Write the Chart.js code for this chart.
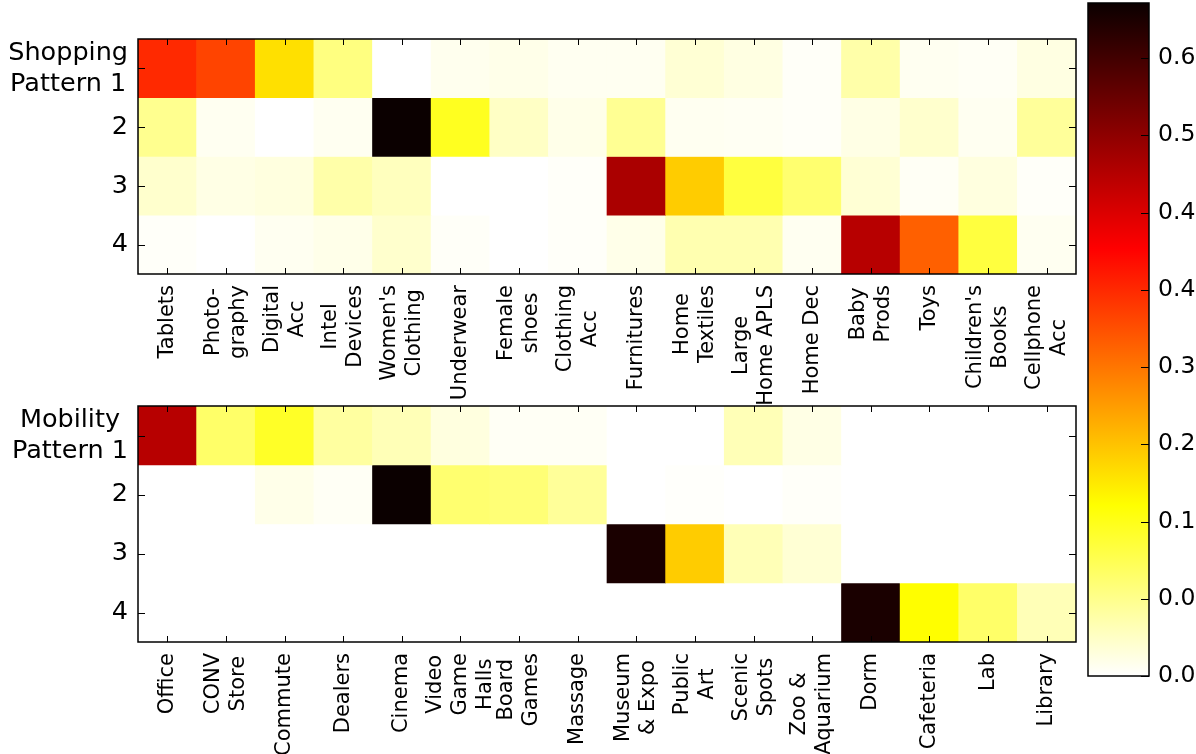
<!DOCTYPE html>
<html>
<head>
<meta charset="utf-8">
<script src="https://cdn.jsdelivr.net/npm/chart.js@4.4.1/dist/chart.umd.min.js"></script>
<style>
body{margin:0;background:#fff;width:1196px;height:754px;overflow:hidden;position:relative}
canvas{position:absolute}
</style>
</head>
<body>
<canvas id="shop" width="1080" height="410" style="left:0;top:0"></canvas>
<canvas id="mob" width="1080" height="394" style="left:0;top:360px"></canvas>
<canvas id="cbar" width="116" height="754" style="left:1080px;top:0"></canvas>
<script>
// column labels (one entry per line of the label)
const shopCategories = [['Tablets'], ['Photo-', 'graphy'], ['Digital', 'Acc'], ['Intel', 'Devices'],
  ["Women's", 'Clothing'], ['Underwear'], ['Female', 'shoes'], ['Clothing', 'Acc'],
  ['Furnitures'], ['Home', 'Textiles'], ['Large', 'Home APLS'], ['Home Dec'],
  ['Baby', 'Prods'], ['Toys'], ["Children's", 'Books'], ['Cellphone', 'Acc']]
const mobCategories = [['Office'], ['CONV', 'Store'], ['Commute'], ['Dealers'],
  ['Cinema'], ['Video', 'Game', 'Halls'], ['Board', 'Games'], ['Massage'],
  ['Museum', '& Expo'], ['Public', 'Art'], ['Scenic', 'Spots'], ['Zoo &', 'Aquarium'],
  ['Dorm'], ['Cafeteria'], ['Lab'], ['Library']]

const shopRows = [['Shopping', 'Pattern 1'], ['2'], ['3'], ['4']]
const mobRows = [['Mobility', 'Pattern 1'], ['2'], ['3'], ['4']]

// shopping patterns
const shop1 = [0.40, 0.372, 0.209, 0.088, 0, 0.012, 0.015, 0.01, 0.01, 0.03, 0.02, 0.005, 0.06, 0.01, 0.007, 0.02]
const shop2 = [0.078, 0.01, 0, 0.01, 0.697, 0.155, 0.04, 0.015, 0.075, 0.01, 0.008, 0.005, 0.018, 0.035, 0.01, 0.07]
const shop3 = [0.035, 0.018, 0.022, 0.06, 0.045, 0, 0, 0.004, 0.531, 0.230, 0.133, 0.10, 0.03, 0.007, 0.022, 0.004]
const shop4 = [0.004, 0, 0.01, 0.015, 0.035, 0.005, 0, 0.004, 0.015, 0.055, 0.055, 0.01, 0.517, 0.343, 0.133, 0.01]

// mobility patterns
const mob1 = [0.517, 0.105, 0.15, 0.066, 0.05, 0.022, 0.007, 0.007, 0, 0, 0.05, 0.018, 0, 0, 0, 0]
const mob2 = [0, 0, 0.015, 0.007, 0.697, 0.10, 0.095, 0.071, 0, 0.003, 0, 0.004, 0, 0, 0, 0]
const mob3 = [0, 0, 0, 0, 0, 0, 0, 0, 0.681, 0.230, 0.05, 0.03, 0, 0, 0, 0]
const mob4 = [0, 0, 0, 0, 0, 0, 0, 0, 0, 0, 0, 0, 0.681, 0.178, 0.105, 0.05]

// colour scale
const vmax = 0.697
const cbarTicks = [0, 0.08, 0.16, 0.24, 0.32, 0.40, 0.48, 0.56, 0.64]

const FONT = '"DejaVu Sans"'

// matplotlib "hot" reversed
function hotR(v) {
  const s = 1 - Math.min(Math.max(v / vmax, 0), 1)
  const r = s < 0.365079 ? 0.0416 + 0.9584 * s / 0.365079 : 1
  const g = s < 0.365079 ? 0 : s < 0.746032 ? (s - 0.365079) / 0.380953 : 1
  const b = s < 0.746032 ? 0 : (s - 0.746032) / 0.253968
  return 'rgb(' + Math.round(r * 255) + ',' + Math.round(g * 255) + ',' + Math.round(b * 255) + ')'
}

// frame, inward ticks and labels like the old matplotlib look
function axesPlugin(cats, rowNames) {
  return {
    id: 'mplAxes',
    afterDraw(chart) {
      const {ctx, chartArea: a, scales: {x, y}} = chart
      ctx.save()
      ctx.strokeStyle = '#000'
      ctx.lineWidth = 1
      ctx.beginPath()
      cats.forEach((c, i) => {
        const px = Math.round(x.getPixelForValue(i)) + 0.5
        ctx.moveTo(px, a.top); ctx.lineTo(px, a.top + 6)
        ctx.moveTo(px, a.bottom); ctx.lineTo(px, a.bottom - 6)
      })
      rowNames.forEach((n, r) => {
        const py = Math.round(y.getPixelForValue(r)) + 0.5
        ctx.moveTo(a.left, py); ctx.lineTo(a.left + 7, py)
        ctx.moveTo(a.right, py); ctx.lineTo(a.right - 7, py)
      })
      ctx.stroke()
      ctx.lineWidth = 1.5
      ctx.strokeRect(a.left, a.top, a.right - a.left, a.bottom - a.top)

      ctx.fillStyle = '#000'
      ctx.textBaseline = 'middle'
      ctx.textAlign = 'center'
      ctx.font = '25.5px ' + FONT
      rowNames.forEach((lines, r) => {
        const py = y.getPixelForValue(r)
        const w = Math.max(...lines.map(l => ctx.measureText(l).width))
        const cx = a.left - 10 - w / 2
        lines.forEach((l, k) => ctx.fillText(l, cx, py + (k - (lines.length - 1) / 2) * 31))
      })
      ctx.font = '21px ' + FONT
      cats.forEach((lines, i) => {
        const px = x.getPixelForValue(i)
        const w = Math.max(...lines.map(l => ctx.measureText(l).width))
        ctx.save()
        ctx.translate(px, a.bottom + 11)
        ctx.rotate(-Math.PI / 2)
        lines.forEach((l, k) => ctx.fillText(l, -w / 2, (k - (lines.length - 1) / 2) * 25))
        ctx.restore()
      })
      ctx.restore()
    }
  }
}

const heatmap = function (id, cats, rowNames, rows, pad) {
  new Chart(document.getElementById(id), {
    type: 'bar',
    data: {
      labels: cats.map(c => c.join(' ')),
      datasets: rows.map((vals, r) => ({
        data: vals.map(() => [r - 0.5, r + 0.5]),
        backgroundColor: vals.map(hotR),
        borderWidth: 0,
        grouped: false,
        barPercentage: 1,
        categoryPercentage: 1
      }))
    },
    options: {
      responsive: false,
      animation: false,
      devicePixelRatio: 1,
      layout: {padding: pad},
      plugins: {legend: {display: false}, tooltip: {enabled: false}},
      scales: {
        x: {display: false},
        y: {display: false, min: -0.5, max: 3.5, reverse: true}
      }
    },
    plugins: [axesPlugin(cats, rowNames)]
  })
}

heatmap('shop', shopCategories, shopRows, [shop1, shop2, shop3, shop4],
  {left: 138, top: 39, right: 4, bottom: 136})
heatmap('mob', mobCategories, mobRows, [mob1, mob2, mob3, mob4],
  {left: 138, top: 46, right: 4, bottom: 112})

// colour bar
const cbarFill = function (context) {
  const a = context.chart.chartArea
  if (!a) return null
  const g = context.chart.ctx.createLinearGradient(0, a.bottom, 0, a.top)
  ;[0, 1 - 0.746032, 1 - 0.365079, 1].forEach(t => g.addColorStop(t, hotR(t * vmax)))
  return g
}

new Chart(document.getElementById('cbar'), {
  type: 'bar',
  data: {
    labels: [''],
    datasets: [{data: [[0, vmax]], backgroundColor: cbarFill, borderWidth: 0, barPercentage: 1, categoryPercentage: 1}]
  },
  options: {
    responsive: false,
    animation: false,
    devicePixelRatio: 1,
    layout: {padding: {left: 8, top: 3, right: 47, bottom: 78}},
    plugins: {legend: {display: false}, tooltip: {enabled: false}},
    scales: {x: {display: false}, y: {display: false, min: 0, max: vmax}}
  },
  plugins: [{
    id: 'cbarAxis',
    afterDraw(chart) {
      const {ctx, chartArea: a, scales: {y}} = chart
      ctx.save()
      ctx.strokeStyle = '#000'
      ctx.lineWidth = 1
      ctx.beginPath()
      cbarTicks.forEach(v => {
        const py = Math.round(y.getPixelForValue(v)) + 0.5
        ctx.moveTo(a.right, py); ctx.lineTo(a.right - 8, py)
      })
      ctx.stroke()
      ctx.lineWidth = 1.5
      ctx.strokeRect(a.left, a.top, a.right - a.left, a.bottom - a.top)
      ctx.fillStyle = '#000'
      ctx.font = '23.5px ' + FONT
      ctx.textAlign = 'left'
      ctx.textBaseline = 'middle'
      cbarTicks.forEach(v => ctx.fillText(v.toFixed(2), a.right + 9, y.getPixelForValue(v)))
      ctx.restore()
    }
  }]
})
</script>
</body>
</html>
